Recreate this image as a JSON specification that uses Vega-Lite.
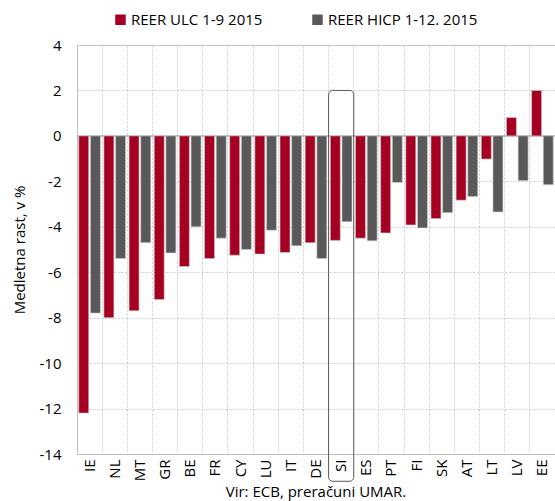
{
  "$schema": "https://vega.github.io/schema/vega-lite/v6.json",
  "width": 478,
  "height": 409,
  "autosize": "none",
  "padding": {"left": 77, "top": 45, "right": 0, "bottom": 47},
  "background": "white",
  "config": {
    "font": "Open Sans",
    "view": {"stroke": "#bfbfbf", "strokeWidth": 1},
    "title": {"font": "Open Sans", "fontSize": 15, "fontWeight": "normal", "color": "black"}
  },
  "title": {"text": "Vir: ECB, preračuni UMAR.", "orient": "bottom", "anchor": "middle", "offset": 3, "fontSize": 15, "fontWeight": "normal", "color": "black"},
  "datasets": {
    "bars": [
      {"country": "IE", "series": "REER ULC 1-9 2015", "value": -12.2},
      {"country": "IE", "series": "REER HICP 1-12. 2015", "value": -7.8},
      {"country": "NL", "series": "REER ULC 1-9 2015", "value": -8.0},
      {"country": "NL", "series": "REER HICP 1-12. 2015", "value": -5.4},
      {"country": "MT", "series": "REER ULC 1-9 2015", "value": -7.7},
      {"country": "MT", "series": "REER HICP 1-12. 2015", "value": -4.7},
      {"country": "GR", "series": "REER ULC 1-9 2015", "value": -7.2},
      {"country": "GR", "series": "REER HICP 1-12. 2015", "value": -5.15},
      {"country": "BE", "series": "REER ULC 1-9 2015", "value": -5.75},
      {"country": "BE", "series": "REER HICP 1-12. 2015", "value": -4.0},
      {"country": "FR", "series": "REER ULC 1-9 2015", "value": -5.4},
      {"country": "FR", "series": "REER HICP 1-12. 2015", "value": -4.5},
      {"country": "CY", "series": "REER ULC 1-9 2015", "value": -5.25},
      {"country": "CY", "series": "REER HICP 1-12. 2015", "value": -5.0},
      {"country": "LU", "series": "REER ULC 1-9 2015", "value": -5.2},
      {"country": "LU", "series": "REER HICP 1-12. 2015", "value": -4.15},
      {"country": "IT", "series": "REER ULC 1-9 2015", "value": -5.13},
      {"country": "IT", "series": "REER HICP 1-12. 2015", "value": -4.84},
      {"country": "DE", "series": "REER ULC 1-9 2015", "value": -4.7},
      {"country": "DE", "series": "REER HICP 1-12. 2015", "value": -5.4},
      {"country": "SI", "series": "REER ULC 1-9 2015", "value": -4.6},
      {"country": "SI", "series": "REER HICP 1-12. 2015", "value": -3.78},
      {"country": "ES", "series": "REER ULC 1-9 2015", "value": -4.5},
      {"country": "ES", "series": "REER HICP 1-12. 2015", "value": -4.62},
      {"country": "PT", "series": "REER ULC 1-9 2015", "value": -4.27},
      {"country": "PT", "series": "REER HICP 1-12. 2015", "value": -2.05},
      {"country": "FI", "series": "REER ULC 1-9 2015", "value": -3.92},
      {"country": "FI", "series": "REER HICP 1-12. 2015", "value": -4.05},
      {"country": "SK", "series": "REER ULC 1-9 2015", "value": -3.64},
      {"country": "SK", "series": "REER HICP 1-12. 2015", "value": -3.38},
      {"country": "AT", "series": "REER ULC 1-9 2015", "value": -2.83},
      {"country": "AT", "series": "REER HICP 1-12. 2015", "value": -2.67},
      {"country": "LT", "series": "REER ULC 1-9 2015", "value": -1.02},
      {"country": "LT", "series": "REER HICP 1-12. 2015", "value": -3.35},
      {"country": "LV", "series": "REER ULC 1-9 2015", "value": 0.81},
      {"country": "LV", "series": "REER HICP 1-12. 2015", "value": -1.97},
      {"country": "EE", "series": "REER ULC 1-9 2015", "value": 2.0},
      {"country": "EE", "series": "REER HICP 1-12. 2015", "value": -2.15}
    ],
    "highlight": [
      {"country": "SI", "top": 2.0, "bottom": -15.2}
    ]
  },
  "encoding": {
    "x": {
      "field": "country",
      "type": "nominal",
      "sort": ["IE","NL","MT","GR","BE","FR","CY","LU","IT","DE","SI","ES","PT","FI","SK","AT","LT","LV","EE"],
      "scale": {"paddingInner": 0, "paddingOuter": 0},
      "axis": {
        "title": null,
        "labelAngle": -90,
        "labelFontSize": 15,
        "labelColor": "black",
        "labelPadding": 5,
        "ticks": false,
        "domainColor": "#bfbfbf",
        "grid": true,
        "bandPosition": 0,
        "gridDash": [2, 2],
        "gridColor": "#c8c8c8",
        "gridWidth": 1
      }
    }
  },
  "layer": [
    {
      "data": {"name": "bars"},
      "mark": {"type": "rule", "color": "#bfbfbf", "strokeWidth": 1.5},
      "encoding": {"x": null, "y": {"datum": 0, "type": "quantitative"}}
    },
    {
      "data": {"name": "bars"},
      "mark": {"type": "bar", "stroke": "#d0d0d0", "strokeWidth": 0.6},
      "encoding": {
        "xOffset": {
          "field": "series",
          "type": "nominal",
          "sort": ["REER ULC 1-9 2015", "REER HICP 1-12. 2015"],
          "scale": {"paddingInner": 0.145, "paddingOuter": 0.15}
        },
        "y": {
          "field": "value",
          "type": "quantitative",
          "scale": {"domain": [-14, 4], "nice": false, "zero": false},
          "axis": {
            "values": [-14, -12, -10, -8, -6, -4, -2, 0, 2, 4],
            "labelExpr": "datum.value < 0 ? '-' + abs(datum.value) : '' + datum.value",
            "title": "Medletna rast, v %",
            "titleFontSize": 15,
            "titleFontWeight": "normal",
            "titleColor": "black",
            "titlePadding": 12,
            "labelFontSize": 15,
            "labelColor": "black",
            "labelPadding": 16,
            "ticks": false,
            "domainColor": "#bfbfbf",
            "grid": true,
            "gridDash": [2, 2],
            "gridColor": "#c8c8c8",
            "gridWidth": 1
          }
        },
        "color": {
          "field": "series",
          "type": "nominal",
          "scale": {"domain": ["REER ULC 1-9 2015", "REER HICP 1-12. 2015"], "range": ["#a50021", "#595959"]},
          "legend": {
            "title": null,
            "orient": "none",
            "legendX": 36,
            "legendY": -33,
            "direction": "horizontal",
            "symbolType": "square",
            "symbolSize": 110,
            "symbolStrokeWidth": 0,
            "labelFontSize": 15,
            "labelColor": "black",
            "labelOffset": 3,
            "columnPadding": 47
          }
        }
      }
    },
    {
      "data": {"name": "highlight"},
      "mark": {"type": "rect", "fill": "transparent", "stroke": "#595959", "strokeWidth": 1, "cornerRadius": 4, "clip": false},
      "encoding": {
        "y": {"field": "top", "type": "quantitative"},
        "y2": {"field": "bottom"}
      }
    }
  ]
}
